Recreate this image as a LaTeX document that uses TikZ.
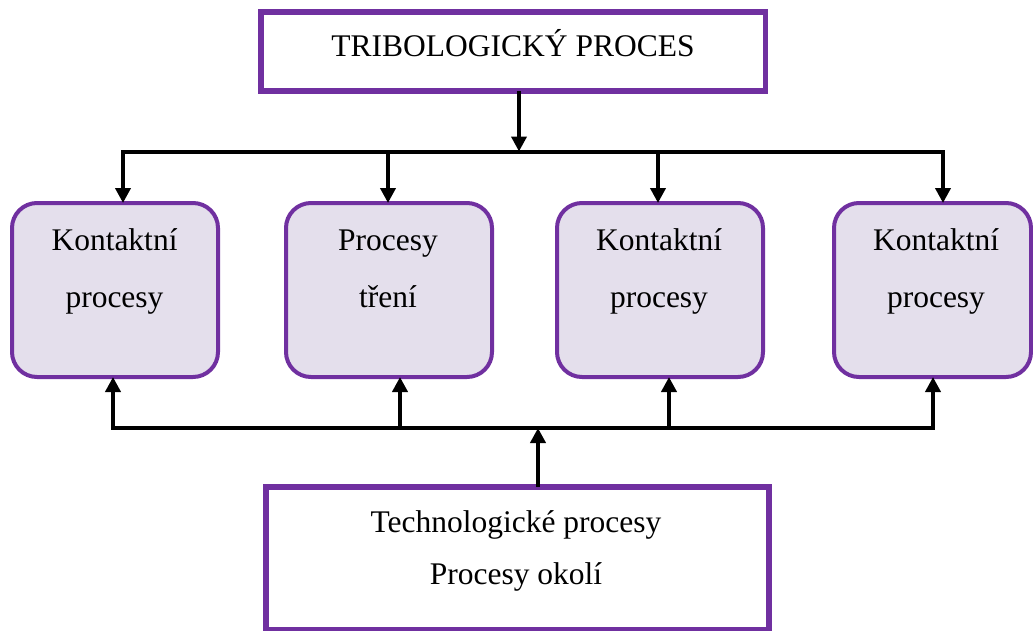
\documentclass[tikz,border=0pt]{standalone}
\usepackage{fontspec}
\setmainfont{Liberation Serif}
\usetikzlibrary{arrows.meta}
\definecolor{bpurple}{HTML}{7030A0}
\definecolor{bfill}{HTML}{E4DFEC}
\begin{document}
\begin{tikzpicture}[x=1pt,y=-1pt,
  sqbox/.style={draw=bpurple,line width=5.5pt,rectangle,inner sep=0pt,outer sep=0pt,fill=white},
  rbox/.style={draw=bpurple,line width=4pt,rectangle,rounded corners=25pt,fill=bfill,inner sep=0pt,outer sep=0pt,minimum width=206pt,minimum height=174pt},
  txt/.style={anchor=base,inner sep=0pt,font=\fontsize{31.5}{36}\selectfont},
  conn/.style={line width=4pt,line cap=rect},
  arr/.style={line width=4pt,-{Triangle[length=15pt,width=15pt]}}]
\useasboundingbox (0,0) rectangle (1033,630);
% boxes
\node[sqbox,minimum width=504.5pt,minimum height=79pt] (top) at (513.25,51.5) {};
\node[sqbox,minimum width=503pt,minimum height=143pt] (bot) at (517.5,558.5) {};
\node[rbox] (b1) at (115,290) {};
\node[rbox] (b2) at (389,290) {};
\node[rbox] (b3) at (660,290) {};
\node[rbox,minimum width=197pt] (b4) at (932.5,290) {};
% texts
\node[txt] (ttop) at (513,56) {TRIBOLOGICKÝ PROCES};
\node[txt] (t1a) at (114.5,250) {Kontaktní};
\node[txt] (t1b) at (114.5,307) {procesy};
\node[txt] (t2a) at (388,250) {Procesy};
\node[txt] (t2b) at (388,307) {tření};
\node[txt] (t3a) at (659,250) {Kontaktní};
\node[txt] (t3b) at (659,307) {procesy};
\node[txt] (t4a) at (936,250) {Kontaktní};
\node[txt] (t4b) at (936,307) {procesy};
\node[txt] (tb1) at (516,532) {Technologické procesy};
\node[txt] (tb2) at (516,584) {Procesy okolí};
% upper distribution
\coordinate (hubA) at (519,151.5);
\coordinate (d1) at (123,151.5);
\coordinate (d2) at (388,151.5);
\coordinate (d3) at (658,151.5);
\coordinate (d4) at (943,151.5);
\draw[conn] (d1) -- (d4);
\draw[arr] (top.south -| hubA) -- (hubA);
\draw[arr] (d1) -- (d1 |- b1.north);
\draw[arr] (d2) -- (d2 |- b2.north);
\draw[arr] (d3) -- (d3 |- b3.north);
\draw[arr] (d4) -- (d4 |- b4.north);
% lower collection
\coordinate (hubB) at (538,428);
\coordinate (u1) at (113,428);
\coordinate (u2) at (400,428);
\coordinate (u3) at (669,428);
\coordinate (u4) at (933,428);
\draw[conn] (u1) -- (u4);
\draw[arr] (bot.north -| hubB) -- (hubB);
\draw[arr] (u1) -- (u1 |- b1.south);
\draw[arr] (u2) -- (u2 |- b2.south);
\draw[arr] (u3) -- (u3 |- b3.south);
\draw[arr] (u4) -- (u4 |- b4.south);
\end{tikzpicture}
\end{document}
